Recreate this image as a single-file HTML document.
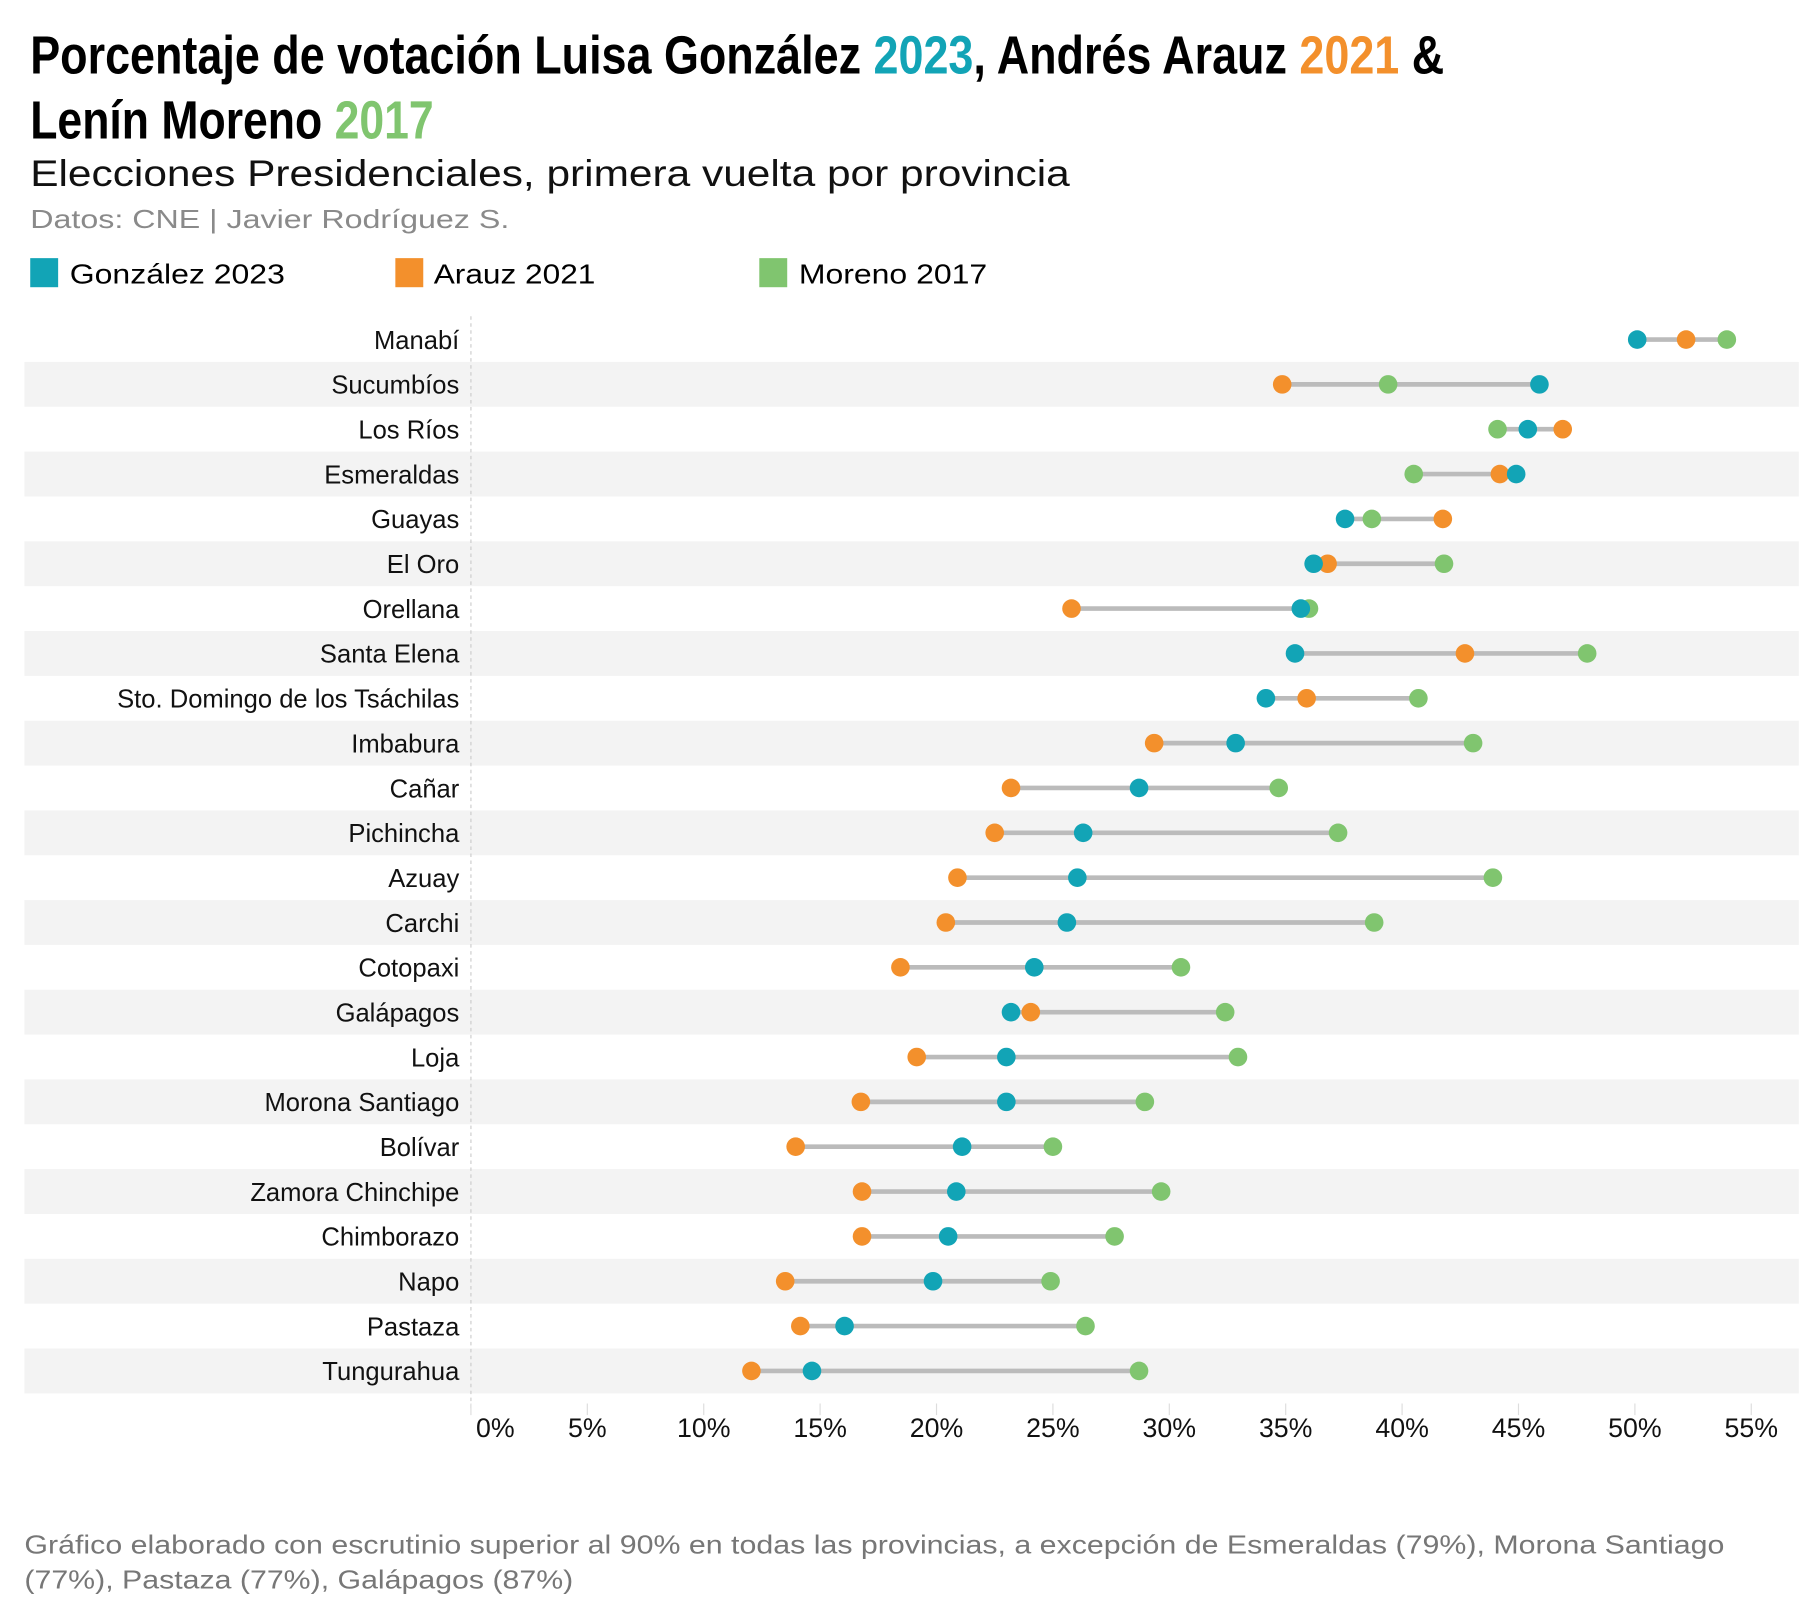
<!DOCTYPE html>
<html><head><meta charset="utf-8"><style>html,body{margin:0;padding:0;background:#fff}svg{display:block}text{font-family:"Liberation Sans",Arial,sans-serif}</style></head>
<body>
<svg id="chart" xmlns="http://www.w3.org/2000/svg" width="1800" height="1600" viewBox="0 0 1548 1376">
<rect width="1548" height="1376" fill="#fff"/>
<text x="26" y="63" font-size="46" font-weight="bold" style="font-family:'Liberation Sans Narrow','Liberation Sans',sans-serif" textLength="1216" lengthAdjust="spacingAndGlyphs">Porcentaje de votación Luisa González <tspan fill="#12a4b6">2023</tspan>, Andrés Arauz <tspan fill="#f3902c">2021</tspan> &amp;</text>
<text x="26" y="119" font-size="46" font-weight="bold" style="font-family:'Liberation Sans Narrow','Liberation Sans',sans-serif" textLength="347" lengthAdjust="spacingAndGlyphs">Lenín Moreno <tspan fill="#80c56f">2017</tspan></text>
<text x="26" y="160" font-size="32" fill="#111" textLength="894" lengthAdjust="spacingAndGlyphs">Elecciones Presidenciales, primera vuelta por provincia</text>
<text x="26" y="196" font-size="22" fill="#8a8a8a" textLength="412" lengthAdjust="spacingAndGlyphs">Datos: CNE | Javier Rodríguez S.</text>
<g>
<rect x="26" y="222" width="24" height="25" fill="#12a4b6"/>
<text x="60" y="244" font-size="24" textLength="185" lengthAdjust="spacingAndGlyphs">González 2023</text>
<rect x="340" y="222" width="24" height="25" fill="#f3902c"/>
<text x="373" y="244" font-size="24" textLength="139" lengthAdjust="spacingAndGlyphs">Arauz 2021</text>
<rect x="653" y="222" width="24" height="25" fill="#80c56f"/>
<text x="687" y="244" font-size="24" textLength="162" lengthAdjust="spacingAndGlyphs">Moreno 2017</text>
</g>
<g id="bands"></g>
<line x1="405" y1="272" x2="405" y2="1212" stroke="#ccc" stroke-width="1" stroke-dasharray="3,3"/>
<g id="ticks"></g>
<g id="rows"></g>
<text x="21" y="1336" font-size="22" fill="#777" textLength="1462" lengthAdjust="spacingAndGlyphs">Gráfico elaborado con escrutinio superior al 90% en todas las provincias, a excepción de Esmeraldas (79%), Morona Santiago</text>
<text x="21" y="1366" font-size="22" fill="#777" textLength="472" lengthAdjust="spacingAndGlyphs">(77%), Pastaza (77%), Galápagos (87%)</text>
</svg>
<script>
const provinces=["Manabí","Sucumbíos","Los Ríos","Esmeraldas","Guayas","El Oro","Orellana","Santa Elena","Sto. Domingo de los Tsáchilas","Imbabura","Cañar","Pichincha","Azuay","Carchi","Cotopaxi","Galápagos","Loja","Morona Santiago","Bolívar","Zamora Chinchipe","Chimborazo","Napo","Pastaza","Tungurahua"];
const gonzalez2023=[50.1,45.9,45.4,44.9,37.55,36.2,35.65,35.4,34.15,32.85,28.7,26.3,26.05,25.6,24.2,23.2,23.0,23.0,21.1,20.85,20.5,19.85,16.05,14.65];
const arauz2021=[52.2,34.85,46.9,44.2,41.75,36.8,25.8,42.7,35.9,29.35,23.2,22.5,20.9,20.4,18.45,24.05,19.15,16.75,13.95,16.8,16.8,13.5,14.15,12.05];
const moreno2017=[53.95,39.4,44.1,40.5,38.7,41.8,36.0,47.95,40.7,43.05,34.7,37.25,43.9,38.8,30.5,32.4,32.95,28.95,25.0,29.65,27.65,24.9,26.4,28.7];
const tickValues=[0,5,10,15,20,25,30,35,40,45,50,55];
const tickLabels=["0%","5%","10%","15%","20%","25%","30%","35%","40%","45%","50%","55%"];
const NS="http://www.w3.org/2000/svg";
const xScale=v=>405+v*20.02;
const rowStep=(1179-292)/23;
const yScale=i=>292+i*rowStep;
function mk(tag,attrs,parent){const e=document.createElementNS(NS,tag);for(const k in attrs)e.setAttribute(k,attrs[k]);parent.appendChild(e);return e;}
const bands=document.getElementById('bands'),rows=document.getElementById('rows'),ticks=document.getElementById('ticks');
provinces.forEach((p,i)=>{
  const y=yScale(i);
  if(i%2===1){const b=mk('rect',{x:21,y:y-rowStep/2,width:1526,height:rowStep,fill:'#f3f3f3'},bands);
    
    }
  const t=mk('text',{x:395,y:y+8,'font-size':22,'text-anchor':'end',fill:'#111'},rows);t.textContent=p;
  
  
  const vals=[gonzalez2023[i],arauz2021[i],moreno2017[i]];
  const l=mk('line',{x1:xScale(Math.min(...vals)),x2:xScale(Math.max(...vals)),y1:y,y2:y,stroke:'#bbb','stroke-width':4},rows);
  
  
  const cols=['#12a4b6','#f3902c','#80c56f'];
  const names=['dot-gonzalez-2023','dot-arauz-2021','dot-moreno-2017'];
  [1,2,0].forEach(k=>{const c=mk('circle',{cx:xScale(vals[k]),cy:y,r:8,fill:cols[k]},rows);
    
    });
});
tickValues.forEach((v,i)=>{
  const x=xScale(v);
  const tm=mk('line',{x1:x,x2:x,y1:1207,y2:1217,stroke:'#ddd','stroke-width':1},ticks);
  
  
  const t=mk('text',{x:i===0?x+21:x,y:1236,'font-size':23,'text-anchor':'middle',fill:'#111'},ticks);t.textContent=tickLabels[i];
  
  
});
</script>
</body></html>
